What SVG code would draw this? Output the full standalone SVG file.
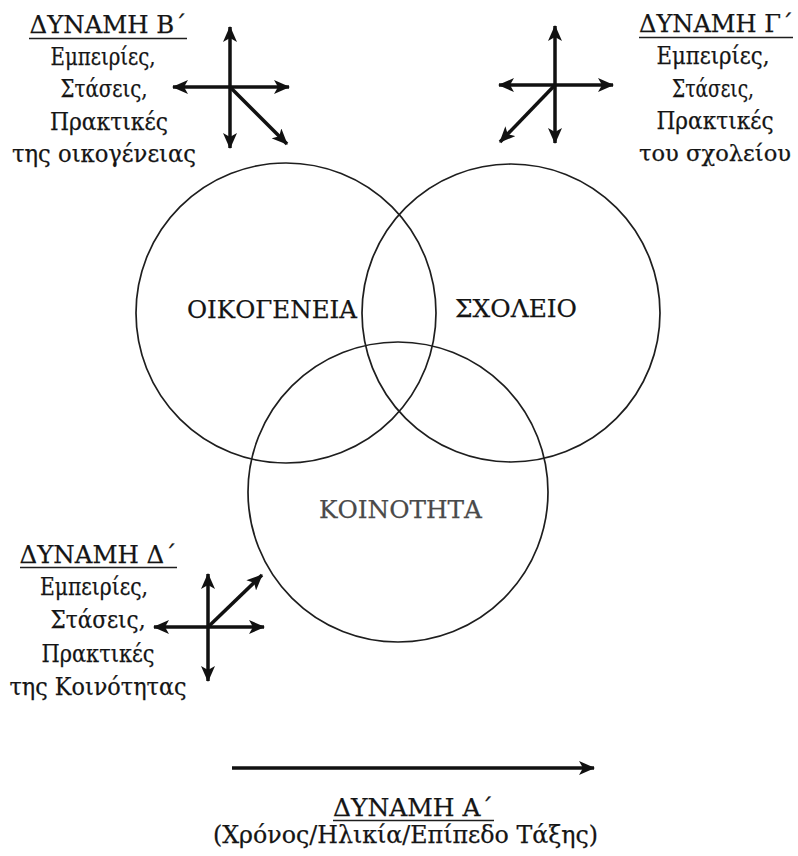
<svg xmlns="http://www.w3.org/2000/svg" width="798" height="856" viewBox="0 0 798 856">
<style>
  .t { font-family: "DejaVu Serif", "Liberation Serif", serif; fill: #151515; stroke: #151515; stroke-width: 0.25; text-anchor: middle; }
  .blk { font-size: 24px; }
  .hd { font-size: 24px; }
  .lbl { font-size: 25px; }
  .ul { stroke: #1e1e1e; stroke-width: 1.5; }
  .circ { fill: none; stroke: #1e1e1e; stroke-width: 1.7; }
  .arr { stroke: #111; stroke-width: 3.5; fill: none; marker-end: url(#ah); }
</style>
<defs>
  <marker id="ah" markerUnits="userSpaceOnUse" markerWidth="16" markerHeight="14" refX="15" refY="7" orient="auto">
    <path d="M0,0 L16,7 L0,14 L4,7 Z" fill="#111"/>
  </marker>
</defs>
<rect width="798" height="856" fill="#fff"/>

<g id="node-oikogeneia">
  <circle class="circ" cx="286" cy="313" r="150"/>
  <text class="t lbl" x="272" y="318" textLength="170" lengthAdjust="spacingAndGlyphs">ΟΙΚΟΓΕΝΕΙΑ</text>
</g>
<g id="node-sxoleio">
  <circle class="circ" cx="511" cy="313" r="149"/>
  <text class="t lbl" x="516" y="317" textLength="122" lengthAdjust="spacingAndGlyphs">ΣΧΟΛΕΙΟ</text>
</g>
<g id="node-koinotita">
  <circle class="circ" cx="398" cy="492" r="150"/>
  <text class="t lbl" x="400.5" y="518" textLength="163" lengthAdjust="spacingAndGlyphs" style="fill:#4a4a4a;stroke:#4a4a4a">ΚΟΙΝΟΤΗΤΑ</text>
</g>

<g id="force-b">
  <text class="t hd" x="108" y="33" textLength="157" lengthAdjust="spacingAndGlyphs">ΔΥΝΑΜΗ Β΄</text>
  <line class="ul" x1="29" y1="38.5" x2="187" y2="38.5"/>
  <text class="t blk" x="103" y="65" textLength="105" lengthAdjust="spacingAndGlyphs">Εμπειρίες,</text>
  <text class="t blk" x="104" y="97" textLength="87" lengthAdjust="spacingAndGlyphs">Στάσεις,</text>
  <text class="t blk" x="109" y="130" textLength="118" lengthAdjust="spacingAndGlyphs">Πρακτικές</text>
  <text class="t blk" x="104" y="162" textLength="184" lengthAdjust="spacingAndGlyphs">της οικογένειας</text>
</g>
<g id="force-g">
  <text class="t hd" x="716" y="32" textLength="154" lengthAdjust="spacingAndGlyphs">ΔΥΝΑΜΗ Γ΄</text>
  <line class="ul" x1="639" y1="37.5" x2="793" y2="37.5"/>
  <text class="t blk" x="713" y="64" textLength="113" lengthAdjust="spacingAndGlyphs">Εμπειρίες,</text>
  <text class="t blk" x="713" y="97" textLength="82" lengthAdjust="spacingAndGlyphs">Στάσεις,</text>
  <text class="t blk" x="715" y="129" textLength="117" lengthAdjust="spacingAndGlyphs">Πρακτικές</text>
  <text class="t blk" x="715" y="161" textLength="152" lengthAdjust="spacingAndGlyphs" style="font-size:21.5px">του σχολείου</text>
</g>
<g id="force-d">
  <text class="t hd" x="98" y="563" textLength="157" lengthAdjust="spacingAndGlyphs">ΔΥΝΑΜΗ Δ΄</text>
  <line class="ul" x1="20" y1="567.5" x2="177" y2="567.5"/>
  <text class="t blk" x="94" y="595" textLength="108" lengthAdjust="spacingAndGlyphs">Εμπειρίες,</text>
  <text class="t blk" x="98" y="628" textLength="95" lengthAdjust="spacingAndGlyphs">Στάσεις,</text>
  <text class="t blk" x="98" y="662" textLength="113" lengthAdjust="spacingAndGlyphs">Πρακτικές</text>
  <text class="t blk" x="98" y="695" textLength="177" lengthAdjust="spacingAndGlyphs">της Κοινότητας</text>
</g>
<g id="force-a">
  <text class="t hd" x="413" y="816" textLength="160" lengthAdjust="spacingAndGlyphs">ΔΥΝΑΜΗ Α΄</text>
  <line class="ul" x1="333" y1="820.5" x2="494" y2="820.5"/>
  <text class="t blk" x="405.5" y="843" textLength="385" lengthAdjust="spacingAndGlyphs">(Χρόνος/Ηλικία/Επίπεδο Τάξης)</text>
</g>

<g id="connectors">
  <!-- Force B cross -->
  <line class="arr" x1="230" y1="87" x2="230" y2="27"/>
  <line class="arr" x1="230" y1="87" x2="230" y2="148"/>
  <line class="arr" x1="230" y1="87" x2="173" y2="87"/>
  <line class="arr" x1="230" y1="87" x2="289" y2="87"/>
  <line class="arr" x1="230" y1="87" x2="287" y2="144"/>
  <!-- Force G cross -->
  <line class="arr" x1="555" y1="85" x2="555" y2="26"/>
  <line class="arr" x1="555" y1="85" x2="555" y2="143"/>
  <line class="arr" x1="555" y1="85" x2="499" y2="85"/>
  <line class="arr" x1="555" y1="85" x2="613" y2="85"/>
  <line class="arr" x1="555" y1="85" x2="500" y2="142"/>
  <!-- Force D cross -->
  <line class="arr" x1="208" y1="627" x2="208" y2="574"/>
  <line class="arr" x1="208" y1="627" x2="208" y2="681"/>
  <line class="arr" x1="208" y1="627" x2="154" y2="627"/>
  <line class="arr" x1="208" y1="627" x2="264" y2="627"/>
  <line class="arr" x1="208" y1="627" x2="262" y2="575"/>
  <!-- Force A -->
  <line class="arr" x1="232" y1="768" x2="594" y2="768"/>
</g>
</svg>
